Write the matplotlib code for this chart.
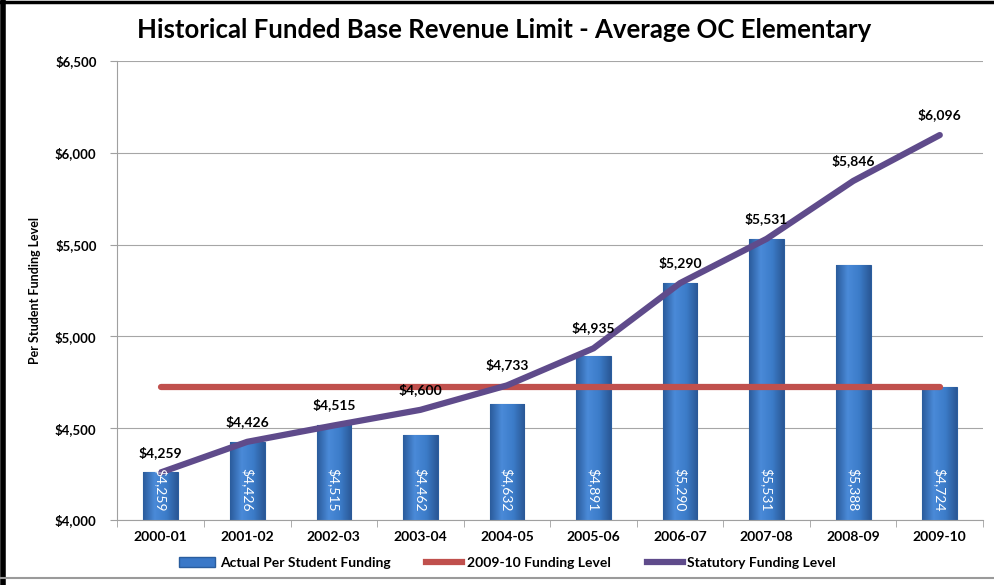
import matplotlib
matplotlib.use("Agg")
import matplotlib.pyplot as plt
from matplotlib.lines import Line2D
from matplotlib.patches import Patch
from matplotlib.colors import LinearSegmentedColormap
import numpy as np

# data
years = ['2000-01', '2001-02', '2002-03', '2003-04', '2004-05',
         '2005-06', '2006-07', '2007-08', '2008-09', '2009-10']
actual = [4259, 4426, 4515, 4462, 4632, 4891, 5290, 5531, 5388, 4724]
statutory = [4259, 4426, 4515, 4600, 4733, 4935, 5290, 5531, 5846, 6096]
level_2009 = 4724
y_ticks = [4000, 4500, 5000, 5500, 6000, 6500]

plt.rcParams['font.family'] = ['Lato', 'DejaVu Sans']

fig = plt.figure(figsize=(9.95, 5.85), dpi=100)
ax = fig.add_axes([0.118, 0.111, 0.870, 0.785])

x = np.arange(len(years))
bar_color = '#3a78c8'
bars = ax.bar(x, [a - 4000 for a in actual], bottom=4000, width=0.4,
              color=bar_color, edgecolor='#2a5d9e', linewidth=0.8, zorder=2)

# shaded fill like the office-style bars: darker edges, lighter middle
shade = LinearSegmentedColormap.from_list('shade', ['#2b5c9c', '#4a8ad8', '#3c7cc9', '#2a5896'])
grad = np.linspace(0, 1, 64).reshape(1, -1)
for b in bars:
    bx, by = b.get_x(), b.get_y()
    im = ax.imshow(grad, cmap=shade, aspect='auto', zorder=2.1,
                   extent=(bx, bx + b.get_width(), by, by + b.get_height()))
    im.set_clip_path(b)

for xi, a in zip(x, actual):
    ax.annotate(f'${a:,}', (xi, 4000), xytext=(0, 6), textcoords='offset points',
                rotation=-90, ha='center', va='bottom', color='white',
                fontsize=10, zorder=4)

ax.plot([x[0], x[-1]], [level_2009, level_2009], color='#c0504d', lw=4.5,
        solid_capstyle='round', zorder=3)
ax.plot(x, statutory, color='#5f4b8b', lw=4.5, solid_capstyle='round',
        solid_joinstyle='round', zorder=3)

for xi, s in zip(x, statutory):
    ax.annotate(f'${s:,}', (xi, s), xytext=(0, 10), textcoords='offset points',
                ha='center', va='bottom', fontsize=10, fontweight='bold', zorder=4)

ax.set_xlim(-0.5, len(years) - 0.5)
ax.set_ylim(4000, 6500)
ax.set_yticks(y_ticks)
ax.set_yticklabels([f'${t:,}' for t in y_ticks], fontsize=9.5, fontweight='bold')
ax.set_xticks(x)
ax.set_xticklabels(years, fontsize=10, fontweight='bold')
ax.set_xticks(np.arange(-0.5, len(years)), minor=True)
ax.tick_params(axis='x', which='major', length=0, pad=8)
ax.tick_params(axis='x', which='minor', length=5, color='#a0a0a0')
ax.tick_params(axis='y', length=5, color='#a0a0a0', pad=10)
ax.grid(axis='y', color='#a6a6a6', lw=0.8, zorder=0)
ax.set_axisbelow(True)
for side in ['top', 'right']:
    ax.spines[side].set_visible(False)
for side in ['left', 'bottom']:
    ax.spines[side].set_color('#a0a0a0')
ax.set_ylabel('Per Student Funding Level', fontsize=9, fontweight='bold', labelpad=10)

fig.text(0.507, 0.948, 'Historical Funded Base Revenue Limit - Average OC Elementary',
         ha='center', va='center', fontsize=18.5, fontweight='bold')

handles = [Patch(facecolor=bar_color, edgecolor='#2a5d9e'),
           Line2D([], [], color='#c0504d', lw=4.5),
           Line2D([], [], color='#5f4b8b', lw=4.5)]
labels = ['Actual Per Student Funding', '2009-10 Funding Level', 'Statutory Funding Level']
fig.legend(handles, labels, loc='center', bbox_to_anchor=(0.51, 0.038), ncol=3,
           frameon=False, prop={'weight': 'bold', 'size': 10},
           handlelength=2.6, handletextpad=0.3, columnspacing=2.6)

# frame lines around the slide
fig.add_artist(Line2D([0.003, 0.003], [0, 1], color='black', lw=4, transform=fig.transFigure))
fig.add_artist(Line2D([0, 1], [0.997, 0.997], color='black', lw=2.5, transform=fig.transFigure))
fig.add_artist(Line2D([0, 1], [0.012, 0.012], color='#9a9a9a', lw=1.5, transform=fig.transFigure))

fig.savefig('out.png', dpi=100)
